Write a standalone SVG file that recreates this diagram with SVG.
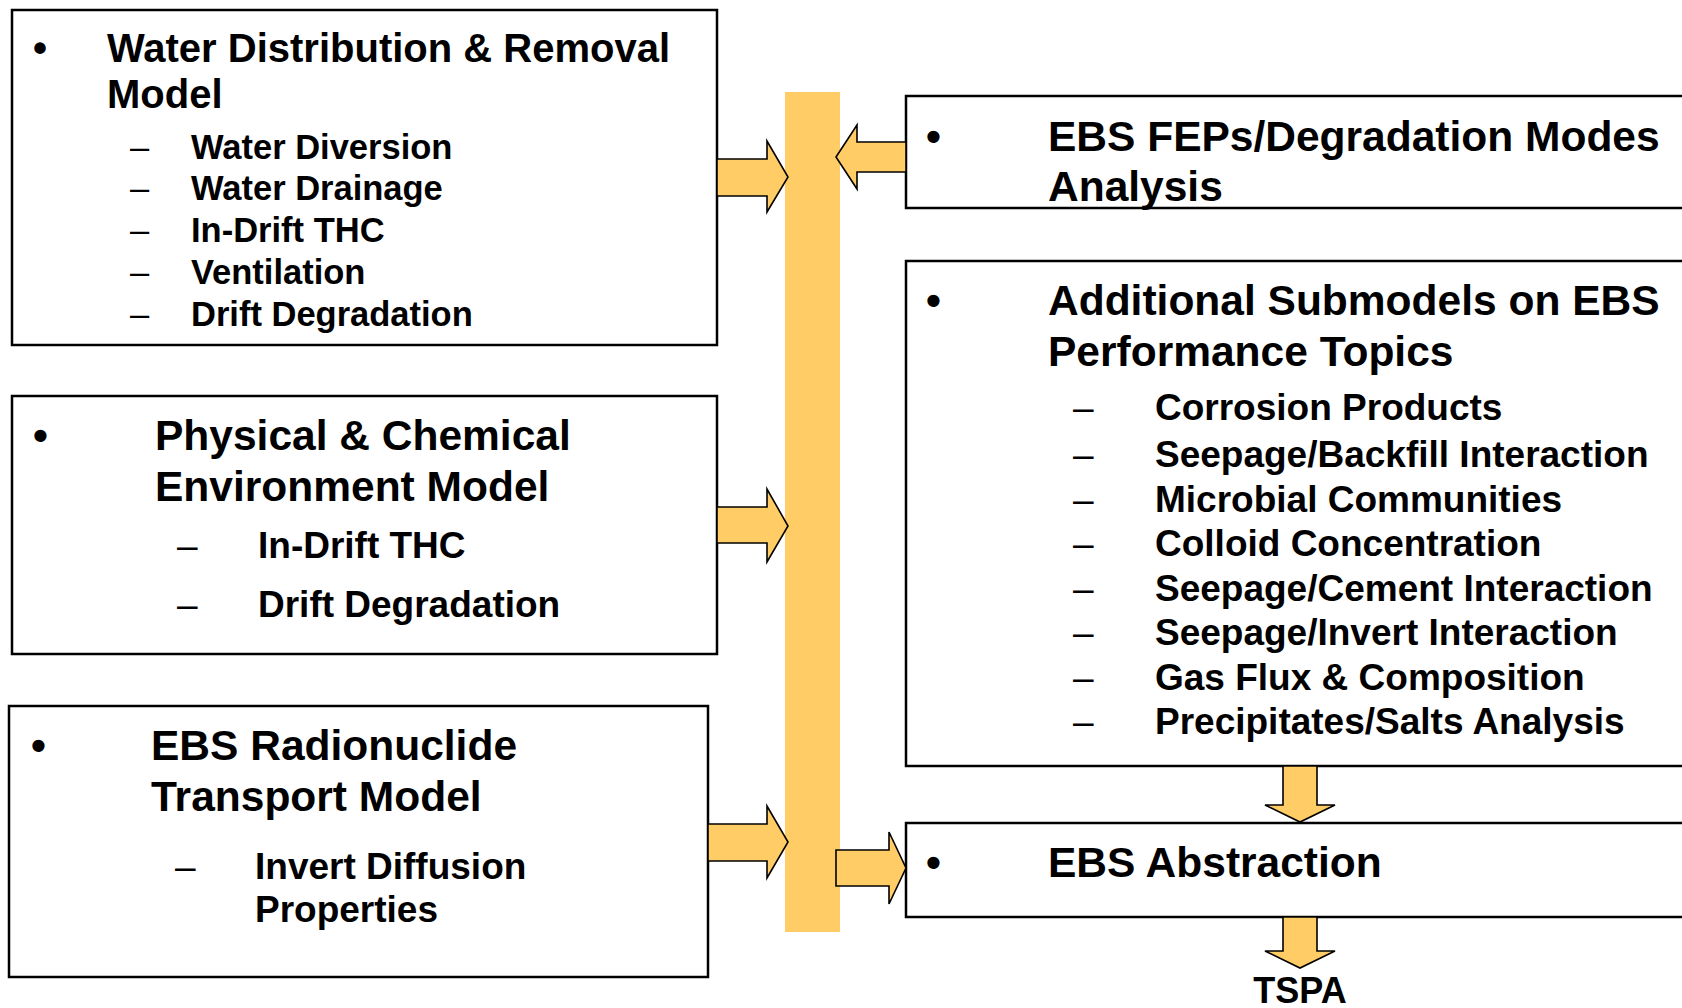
<svg xmlns="http://www.w3.org/2000/svg" width="1682" height="1008" viewBox="0 0 1682 1008">
<style>
.box{fill:#fff;stroke:#000;stroke-width:2.5}
.bar{fill:#FFCC66}
.arr{fill:#FFCC66;stroke:#000;stroke-width:1.6;stroke-linejoin:miter}
text{font-family:"Liberation Sans",Arial,Helvetica,sans-serif;font-weight:bold;fill:#000}
.d{font-weight:normal}
.h40{font-size:40px}
.s34{font-size:34.5px}
.h42{font-size:42.5px}
.s37{font-size:37px}
</style>
<rect width="1682" height="1008" fill="#fff"/>
<rect id="bar" class="bar" x="785" y="92" width="55" height="840"/>

<g id="node-water">
<rect class="box" x="12" y="10" width="705" height="335"/>
<text class="h40" x="33" y="62">•</text>
<text class="h40" x="107" y="62">Water Distribution &amp; Removal</text>
<text class="h40" x="107" y="108">Model</text>
<g class="s34">
<text class="d" x="130" y="159">–</text><text x="191" y="159">Water Diversion</text>
<text class="d" x="130" y="200">–</text><text x="191" y="200">Water Drainage</text>
<text class="d" x="130" y="242">–</text><text x="191" y="242">In-Drift THC</text>
<text class="d" x="130" y="284">–</text><text x="191" y="284">Ventilation</text>
<text class="d" x="130" y="326">–</text><text x="191" y="326">Drift Degradation</text>
</g>
</g>

<g id="node-physical">
<rect class="box" x="12" y="396" width="705" height="258"/>
<text class="h42" x="33" y="450">•</text>
<text class="h42" x="155" y="450">Physical &amp; Chemical</text>
<text class="h42" x="155" y="501">Environment Model</text>
<g class="s37">
<text class="d" x="177" y="558">–</text><text x="258" y="558">In-Drift THC</text>
<text class="d" x="177" y="617">–</text><text x="258" y="617">Drift Degradation</text>
</g>
</g>

<g id="node-radionuclide">
<rect class="box" x="9" y="706" width="699" height="271"/>
<text class="h42" x="31" y="760">•</text>
<text class="h42" x="151" y="760">EBS Radionuclide</text>
<text class="h42" x="151" y="811">Transport Model</text>
<g class="s37">
<text class="d" x="175" y="879">–</text><text x="255" y="879">Invert Diffusion</text>
<text x="255" y="922">Properties</text>
</g>
</g>

<g id="node-feps">
<rect class="box" x="906" y="96" width="790" height="112"/>
<text class="h42" x="926" y="151">•</text>
<text class="h42" x="1048" y="151">EBS FEPs/Degradation Modes</text>
<text class="h42" x="1048" y="201">Analysis</text>
</g>

<g id="node-additional">
<rect class="box" x="906" y="261" width="790" height="505"/>
<text class="h42" x="926" y="315">•</text>
<text class="h42" x="1048" y="315">Additional Submodels on EBS</text>
<text class="h42" x="1048" y="366">Performance Topics</text>
<g class="s37">
<text class="d" x="1073" y="420">–</text><text x="1155" y="420">Corrosion Products</text>
<text class="d" x="1073" y="467">–</text><text x="1155" y="467">Seepage/Backfill Interaction</text>
<text class="d" x="1073" y="512">–</text><text x="1155" y="512">Microbial Communities</text>
<text class="d" x="1073" y="556">–</text><text x="1155" y="556">Colloid Concentration</text>
<text class="d" x="1073" y="601">–</text><text x="1155" y="601">Seepage/Cement Interaction</text>
<text class="d" x="1073" y="645">–</text><text x="1155" y="645">Seepage/Invert Interaction</text>
<text class="d" x="1073" y="690">–</text><text x="1155" y="690">Gas Flux &amp; Composition</text>
<text class="d" x="1073" y="734">–</text><text x="1155" y="734">Precipitates/Salts Analysis</text>
</g>
</g>

<g id="node-abstraction">
<rect class="box" x="906" y="823" width="790" height="94"/>
<text class="h42" x="926" y="877">•</text>
<text class="h42" x="1048" y="877">EBS Abstraction</text>
</g>

<g id="node-tspa">
<text x="1300" y="1003" font-size="36" text-anchor="middle">TSPA</text>
</g>

<g id="connectors">
<polygon class="arr" points="717,159 767,159 767,141 788,177 767,212 767,196 717,196"/>
<polygon class="arr" points="717,507 767,507 767,489 788,526 767,562 767,543 717,543"/>
<polygon class="arr" points="708,824 767,824 767,806 788,842 767,878 767,861 708,861"/>
<polygon class="arr" points="906,142 857,142 857,125 836,157 857,189 857,172 906,172"/>
<polygon class="arr" points="836,850 889,850 889,832 906,868 889,904 889,886 836,886"/>
<polygon class="arr" points="1283,766 1317,766 1317,805 1335,805 1300,822 1265,805 1283,805"/>
<polygon class="arr" points="1283,917 1317,917 1317,951 1335,951 1300,968 1265,951 1283,951"/>
</g>
</svg>
